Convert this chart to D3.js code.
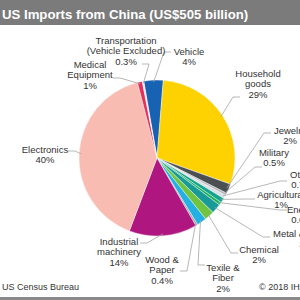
<!DOCTYPE html>
<html>
<head>
<meta charset="utf-8">
<script src="https://cdn.jsdelivr.net/npm/d3@7"></script>
<style>
  body { margin: 0; background: #fff; }
  svg { display: block; font-family: "Liberation Sans", Arial, sans-serif; }
</style>
</head>
<body>
<div id="chart"></div>
<script>
// Data
const categories = ['Vehicle', 'Household goods', 'Jewelry', 'Military', 'Other', 'Agricultural',
  'Energy', 'Metal & Mineral', 'Chemical', 'Texile & Fiber', 'Wood & Paper',
  'Industrial machinery', 'Electronics', 'Medical Equipment', 'Transportation (Vehicle Excluded)']
const shares = [4, 29, 2, 0.5, 0.7, 1, 0.6, 2, 2, 2, 0.4, 14, 40, 1, 0.3]
const shareLabels = ['4%', '29%', '2%', '0.5%', '0.7%', '1%', '0.6%', '2%', '2%', '2%', '0.4%',
  '14%', '40%', '1%', '0.3%']
const colors = ['#1762b3', '#fed100', '#4b5053', '#b3b7ba', '#d9dfe6', '#17a38d', '#1bb25c',
  '#189b98', '#70c43f', '#22b1e2', '#a3a3a3', '#af1680', '#f9bcb3', '#e2315c', '#ece4f2']

// label layout: text lines, first baseline, leader end
const labelLayout = {
  'Vehicle':        { lines: ['Vehicle'], x: 189, y: 55, lx: 171, ly: 52 },
  'Household goods': { lines: ['Household', 'goods'], x: 258, y: 77, lx: 240, ly: 97 },
  'Jewelry':        { lines: ['Jewelry'], x: 290, y: 134, lx: 271, ly: 133 },
  'Military':       { lines: ['Military'], x: 274, y: 156, lx: 262, ly: 167 },
  'Other':          { lines: ['Other'], x: 302, y: 178, lx: 287, ly: 181 },
  'Agricultural':   { lines: ['Agricultural'], x: 281, y: 198, lx: 255, ly: 199 },
  'Energy':         { lines: ['Energy'], x: 302, y: 213, lx: 287, ly: 210 },
  'Metal & Mineral': { lines: ['Metal & Mineral'], x: 306, y: 237, lx: 270, ly: 237 },
  'Chemical':       { lines: ['Chemical'], x: 259, y: 253, lx: 238, ly: 253 },
  'Texile & Fiber': { lines: ['Texile &', 'Fiber'], x: 223, y: 271, lx: 205, ly: 265 },
  'Wood & Paper':   { lines: ['Wood &', 'Paper'], x: 162, y: 263, lx: 180, ly: 271 },
  'Industrial machinery': { lines: ['Industrial', 'machinery'], x: 119, y: 245, lx: 140, ly: 243 },
  'Electronics':    { lines: ['Electronics'], x: 45, y: 153, lx: 68, ly: 151 },
  'Medical Equipment': { lines: ['Medical', 'Equipment'], x: 90, y: 68, lx: 113, ly: 78 },
  'Transportation (Vehicle Excluded)': { lines: ['Transportation', '(Vehicle Excluded)'], x: 126, y: 44, lx: 142, ly: 64 }
}

const width = 300, height = 300
const cx = 157, cy = 158, radius = 78
const start = -0.171

const svg = d3.select('#chart').append('svg')
  .attr('width', width)
  .attr('height', height)

// Title bar
svg.append('rect').attr('width', width).attr('height', 25).attr('fill', '#7b7b7b')
svg.append('text')
  .attr('x', 2).attr('y', 19)
  .attr('fill', '#fff')
  .attr('font-weight', 'bold')
  .attr('font-size', 13.2)
  .text('US Imports from China (US$505 billion)')

const data = categories.map((c, i) => ({ name: c, value: shares[i], label: shareLabels[i], color: colors[i] }))

const pie = d3.pie().sort(null).value(d => d.value)
  .startAngle(start).endAngle(start + 2 * Math.PI)
const arcs = pie(data)

const arc = d3.arc().innerRadius(0).outerRadius(radius)

const g = svg.append('g').attr('transform', `translate(${cx},${cy})`)

g.selectAll('path')
  .data(arcs)
  .join('path')
  .attr('d', arc)
  .attr('fill', d => d.data.color)
  .attr('stroke', '#fff')
  .attr('stroke-width', 0.4)

// Leader lines
const edge = d3.arc().innerRadius(radius - 2).outerRadius(radius - 2)
svg.append('g')
  .attr('fill', 'none')
  .attr('stroke', '#a5a5a5')
  .attr('stroke-width', 0.8)
  .selectAll('polyline')
  .data(arcs)
  .join('polyline')
  .attr('points', d => {
    const [px, py] = edge.centroid(d)
    const L = labelLayout[d.data.name]
    const dir = L.lx > cx + px ? -1 : 1
    return [[cx + px, cy + py], [L.lx + dir * 7, L.ly], [L.lx, L.ly]].map(p => p.join(',')).join(' ')
  })

// Labels
const labels = svg.append('g')
  .attr('font-size', 9.5)
  .attr('fill', '#333')
  .attr('text-anchor', 'middle')
  .selectAll('text')
  .data(arcs)
  .join('text')
  .attr('x', d => labelLayout[d.data.name].x)
  .attr('y', d => labelLayout[d.data.name].y)

labels.each(function (d) {
  const L = labelLayout[d.data.name]
  const lines = L.lines.concat([d.data.label])
  d3.select(this).selectAll('tspan')
    .data(lines)
    .join('tspan')
    .attr('x', L.x)
    .attr('dy', (t, i) => i === 0 ? 0 : 10.3)
    .text(t => t)
})

// Footer
svg.append('text').attr('x', 2).attr('y', 290).attr('font-size', 9).attr('fill', '#333')
  .text('US Census Bureau')
svg.append('text').attr('x', 259).attr('y', 290).attr('font-size', 9).attr('fill', '#333')
  .text('© 2018 IHS Markit')
svg.append('rect').attr('y', 297).attr('width', width).attr('height', 3).attr('fill', '#8a8a8a')
</script>
</body>
</html>
